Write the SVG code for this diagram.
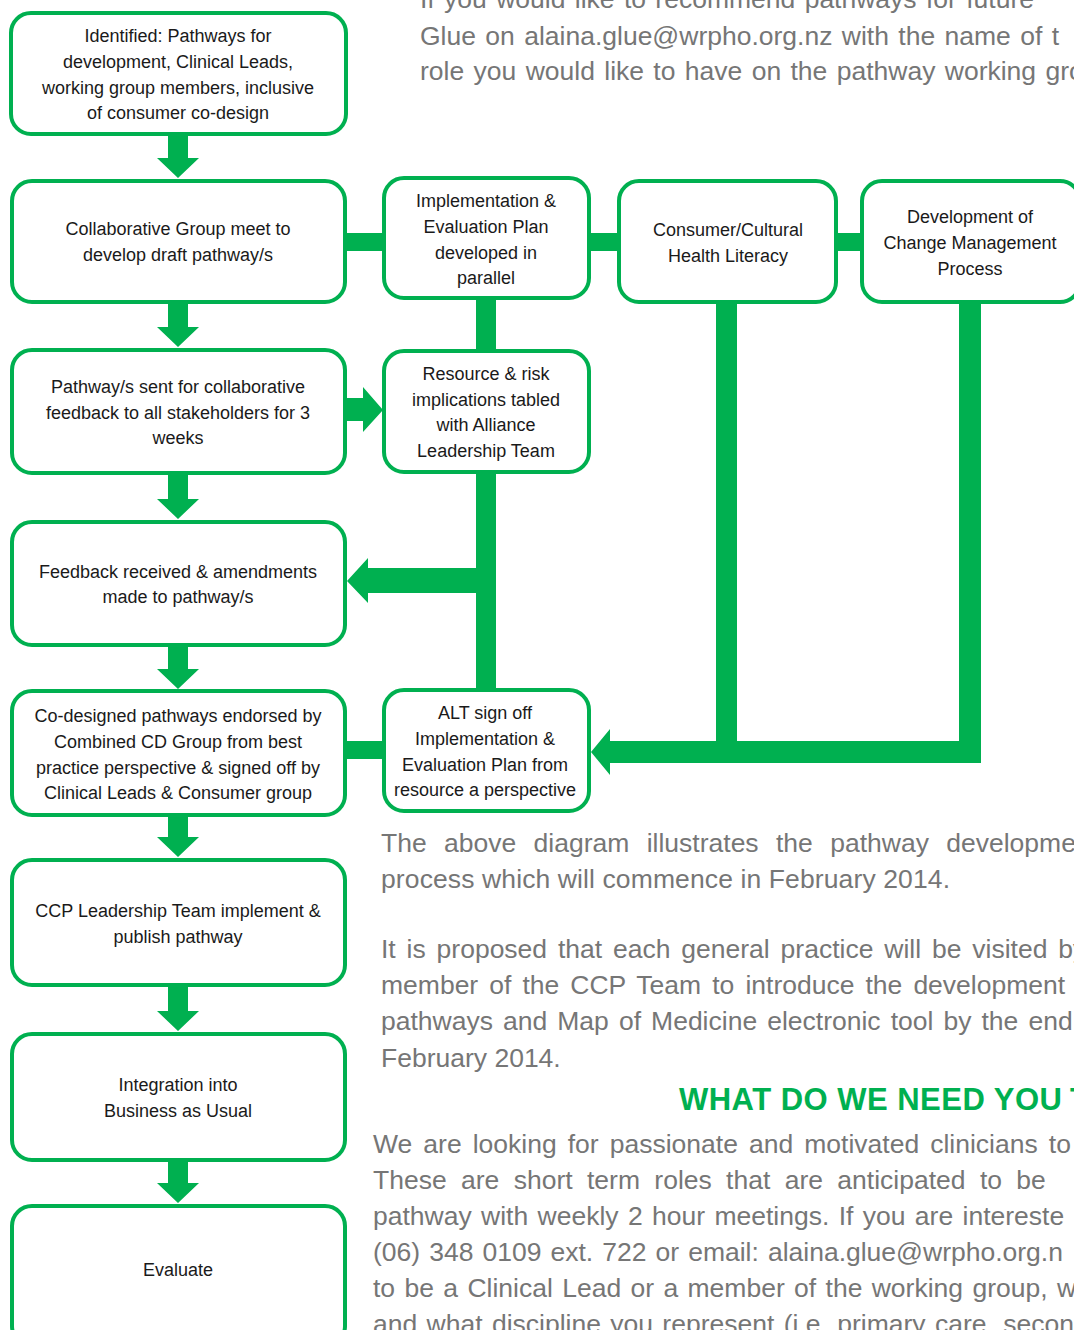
<svg xmlns="http://www.w3.org/2000/svg" width="1074" height="1330" viewBox="0 0 1074 1330">
<style>
.box{fill:#fff;stroke:#00b050;stroke-width:4}
.c{fill:#00b050}
.t{font-family:"Liberation Sans",Arial,sans-serif;font-size:18px;fill:#1a1a1a;text-anchor:middle}
.b{font-family:"Liberation Sans",Arial,sans-serif;font-size:26.5px;fill:#767676}
.h{font-family:"Liberation Sans",Arial,sans-serif;font-size:31px;font-weight:bold;fill:#00b050}
</style>
<rect width="1074" height="1330" fill="#fff"/>
<g id="connectors">
  <!-- down arrows left column -->
  <path class="c" d="M168,134 H188 V158 H199 L178,178 L157,158 H168 Z"/>
  <path class="c" d="M168,302 H188 V327 H199 L178,347 L157,327 H168 Z"/>
  <path class="c" d="M168,473 H188 V499 H199 L178,519 L157,499 H168 Z"/>
  <path class="c" d="M168,645 H188 V669 H199 L178,689 L157,669 H168 Z"/>
  <path class="c" d="M168,815 H188 V837 H199 L178,857 L157,837 H168 Z"/>
  <path class="c" d="M168,985 H188 V1011 H199 L178,1031 L157,1011 H168 Z"/>
  <path class="c" d="M168,1160 H188 V1183 H199 L178,1203 L157,1183 H168 Z"/>
  <!-- horizontal links top row -->
  <rect class="c" x="345" y="233" width="40" height="18"/>
  <rect class="c" x="588" y="233" width="32" height="18"/>
  <rect class="c" x="835" y="233" width="29" height="18"/>
  <!-- box3 -> resource arrow -->
  <path class="c" d="M345,398 H363 V387 L383,410 L363,432 V421 H345 Z"/>
  <!-- middle vertical -->
  <rect class="c" x="476" y="297" width="20" height="55"/>
  <rect class="c" x="476" y="472" width="20" height="219"/>
  <!-- left arrow to box 4 -->
  <path class="c" d="M496,568 V593 H368 V603 L347,581 L368,558 V568 Z"/>
  <!-- box5 to ALT -->
  <rect class="c" x="345" y="741" width="40" height="18"/>
  <!-- right verticals -->
  <rect class="c" x="716" y="301" width="21" height="442"/>
  <path class="c" d="M959,301 H981 V763 H610 V775 L591,752 L610,729 V741 H959 Z"/>
</g>
<g id="n1"><rect class="box" x="11" y="13" width="335" height="121" rx="20"/>
<text class="t" x="178"><tspan x="178" y="42">Identified: Pathways for</tspan><tspan x="178" y="68">development, Clinical Leads,</tspan><tspan x="178" y="94">working group members, inclusive</tspan><tspan x="178" y="119">of consumer co-design</tspan></text></g>
<g id="n2"><rect class="box" x="12" y="181" width="333" height="121" rx="20"/>
<text class="t"><tspan x="178" y="235">Collaborative Group meet to</tspan><tspan x="178" y="261">develop draft pathway/s</tspan></text></g>
<g id="n3"><rect class="box" x="12" y="350" width="333" height="123" rx="20"/>
<text class="t"><tspan x="178" y="393">Pathway/s sent for collaborative</tspan><tspan x="178" y="419">feedback to all stakeholders for 3</tspan><tspan x="178" y="444">weeks</tspan></text></g>
<g id="n4"><rect class="box" x="12" y="522" width="333" height="123" rx="20"/>
<text class="t"><tspan x="178" y="578">Feedback received &amp; amendments</tspan><tspan x="178" y="603">made to pathway/s</tspan></text></g>
<g id="n5"><rect class="box" x="12" y="691" width="333" height="124" rx="20"/>
<text class="t"><tspan x="178" y="722">Co-designed pathways endorsed by</tspan><tspan x="178" y="748">Combined CD Group from best</tspan><tspan x="178" y="774">practice perspective &amp; signed off by</tspan><tspan x="178" y="799">Clinical Leads &amp; Consumer group</tspan></text></g>
<g id="n6"><rect class="box" x="12" y="860" width="333" height="125" rx="20"/>
<text class="t"><tspan x="178" y="917">CCP Leadership Team implement &amp;</tspan><tspan x="178" y="943">publish pathway</tspan></text></g>
<g id="n7"><rect class="box" x="12" y="1034" width="333" height="126" rx="20"/>
<text class="t"><tspan x="178" y="1091">Integration into</tspan><tspan x="178" y="1117">Business as Usual</tspan></text></g>
<g id="n8"><rect class="box" x="12" y="1206" width="333" height="140" rx="20"/>
<text class="t" x="178" y="1276">Evaluate</text></g>
<g id="nA"><rect class="box" x="384" y="178" width="205" height="120" rx="20"/>
<text class="t"><tspan x="486" y="207">Implementation &amp;</tspan><tspan x="486" y="233">Evaluation Plan</tspan><tspan x="486" y="259">developed in</tspan><tspan x="486" y="284">parallel</tspan></text></g>
<g id="nB"><rect class="box" x="384" y="351" width="205" height="121" rx="20"/>
<text class="t"><tspan x="486" y="380">Resource &amp; risk</tspan><tspan x="486" y="406">implications tabled</tspan><tspan x="486" y="431">with Alliance</tspan><tspan x="486" y="457">Leadership Team</tspan></text></g>
<g id="nC"><rect class="box" x="619" y="181" width="217" height="121" rx="20"/>
<text class="t"><tspan x="728" y="236">Consumer/Cultural</tspan><tspan x="728" y="262">Health Literacy</tspan></text></g>
<g id="nD"><rect class="box" x="862" y="181" width="218" height="121" rx="20"/>
<text class="t"><tspan x="970" y="223">Development of</tspan><tspan x="970" y="249">Change Management</tspan><tspan x="970" y="275">Process</tspan></text></g>
<g id="nALT"><rect class="box" x="384" y="690" width="205" height="121" rx="20"/>
<text class="t"><tspan x="485" y="719">ALT sign off</tspan><tspan x="485" y="745">Implementation &amp;</tspan><tspan x="485" y="771">Evaluation Plan from</tspan><tspan x="485" y="796">resource a perspective</tspan></text></g>
<g id="body">
<text class="b" x="420" y="8" word-spacing="2">If you would like to recommend pathways for future</text>
<text class="b" x="420" y="45" word-spacing="2">Glue on alaina.glue@wrpho.org.nz with the name of t</text>
<text class="b" x="420" y="80" word-spacing="2">role you would like to have on the pathway working gro</text>
<text class="b" x="381" y="852" word-spacing="10">The above diagram illustrates the pathway developme</text>
<text class="b" x="381" y="888" textLength="569">process which will commence in February 2014.</text>
<text class="b" x="381" y="958" word-spacing="3.5">It is proposed that each general practice will be visited by</text>
<text class="b" x="381" y="994" word-spacing="3.7">member of the CCP Team to introduce the development</text>
<text class="b" x="381" y="1030" word-spacing="2.7">pathways and Map of Medicine electronic tool by the end of</text>
<text class="b" x="381" y="1067">February 2014.</text>
<text class="h" x="679" y="1110"><tspan textLength="383">WHAT DO WE NEED YOU</tspan><tspan x="1070">T</tspan></text>
<text class="b" x="373" y="1153" word-spacing="3.7">We are looking for passionate and motivated clinicians to</text>
<text class="b" x="373" y="1189" word-spacing="7">These are short term roles that are anticipated to be</text>
<text class="b" x="373" y="1225" word-spacing="2">pathway with weekly 2 hour meetings.  If you are intereste</text>
<text class="b" x="373" y="1261" word-spacing="1.7">(06) 348 0109 ext. 722 or email: alaina.glue@wrpho.org.n</text>
<text class="b" x="373" y="1297" word-spacing="2">to be a Clinical Lead or a member of the working group, wh</text>
<text class="b" x="373" y="1333" word-spacing="2">and what discipline you represent (i.e. primary care, secon</text>
</g>
</svg>
